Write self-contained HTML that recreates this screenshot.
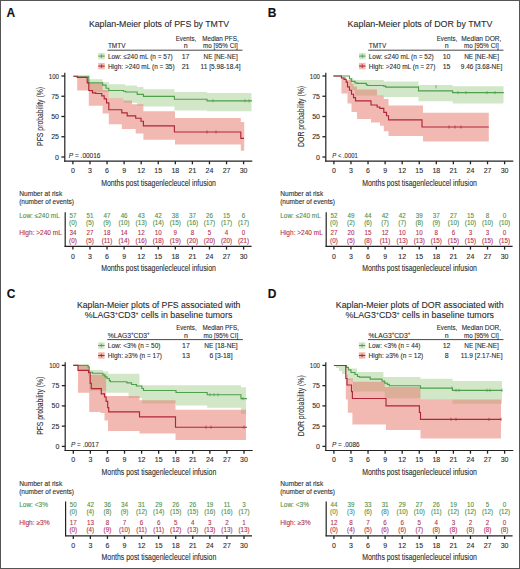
<!DOCTYPE html>
<html><head><meta charset="utf-8"><title>Kaplan-Meier plots</title>
<style>
html,body{margin:0;padding:0;background:#fff;}
body{width:520px;height:569px;overflow:hidden;}
svg{display:block;font-family:"Liberation Sans", sans-serif;}
text{paint-order:stroke;stroke-width:0.1px;stroke-linejoin:round;}
</style></head>
<body>
<svg width="520" height="569" viewBox="0 0 520 569">
<rect x="0" y="0" width="520" height="569" fill="#fff"/>
<text x="6.6" y="16.8" font-size="12" font-weight="bold" fill="#111" stroke="#111">A</text>
<text x="159.0" y="27.1" font-size="8.8" text-anchor="middle" textLength="140.2" lengthAdjust="spacingAndGlyphs" fill="#2b2b2b" stroke="#2b2b2b">Kaplan-Meier plots of PFS by TMTV</text>
<text x="107.9" y="48.1" font-size="7.0" textLength="17.7" lengthAdjust="spacingAndGlyphs" fill="#2b2b2b" stroke="#2b2b2b">TMTV</text>
<text x="186" y="41.0" font-size="7.0" text-anchor="middle" textLength="20.4" lengthAdjust="spacingAndGlyphs" fill="#2b2b2b" stroke="#2b2b2b">Events,</text>
<text x="185.6" y="48.1" font-size="7.0" text-anchor="middle" fill="#2b2b2b" stroke="#2b2b2b">n</text>
<text x="220.4" y="41.0" font-size="7.0" text-anchor="middle" textLength="36.5" lengthAdjust="spacingAndGlyphs" fill="#2b2b2b" stroke="#2b2b2b">Median PFS,</text>
<text x="220.4" y="48.1" font-size="7.0" text-anchor="middle" textLength="34.7" lengthAdjust="spacingAndGlyphs" fill="#2b2b2b" stroke="#2b2b2b">mo [95% CI]</text>
<line x1="107.4" y1="50.2" x2="242.5" y2="50.2" stroke="#333" stroke-width="0.9"/>
<rect x="98.30" y="52.90" width="6.4" height="6.4" fill="#d2e7c8"/>
<line x1="98.3" y1="56.1" x2="104.7" y2="56.1" stroke="#4f9f4c" stroke-width="1.1"/>
<line x1="101.5" y1="54.300000000000004" x2="101.5" y2="57.9" stroke="#4f9f4c" stroke-width="0.8"/>
<text x="107.9" y="58.7" font-size="7.0" textLength="64.8" lengthAdjust="spacingAndGlyphs" fill="#2b2b2b" stroke="#2b2b2b">Low: ≤240 mL (n = 57)</text>
<text x="185.6" y="58.7" font-size="7.0" text-anchor="middle" fill="#2b2b2b" stroke="#2b2b2b">17</text>
<text x="220.6" y="58.7" font-size="7.0" text-anchor="middle" textLength="34.2" lengthAdjust="spacingAndGlyphs" fill="#2b2b2b" stroke="#2b2b2b">NE [NE-NE]</text>
<rect x="98.30" y="62.90" width="6.4" height="6.4" fill="#f0b9b0"/>
<line x1="98.3" y1="66.10000000000001" x2="104.7" y2="66.10000000000001" stroke="#ae2638" stroke-width="1.1"/>
<line x1="101.5" y1="64.30000000000001" x2="101.5" y2="67.9" stroke="#ae2638" stroke-width="0.8"/>
<text x="107.9" y="68.7" font-size="7.0" textLength="66.7" lengthAdjust="spacingAndGlyphs" fill="#2b2b2b" stroke="#2b2b2b">High: &gt;240 mL (n = 35)</text>
<text x="185.6" y="68.7" font-size="7.0" text-anchor="middle" fill="#2b2b2b" stroke="#2b2b2b">21</text>
<text x="220.6" y="68.7" font-size="7.0" text-anchor="middle" textLength="40.0" lengthAdjust="spacingAndGlyphs" fill="#2b2b2b" stroke="#2b2b2b">11 [5.98-18.4]</text>
<path d="M73.40,76.20 L88.80,76.20 L88.80,79.20 L102.60,79.20 L102.60,82.00 L108.80,82.00 L108.80,84.30 L125.00,84.30 L125.00,85.50 L137.00,85.50 L137.00,87.00 L143.40,87.00 L143.40,89.20 L174.40,89.20 L174.40,92.00 L207.00,92.00 L207.00,93.00 L251.50,93.00 L251.50,111.30 L207.00,111.30 L207.00,110.40 L174.40,110.40 L174.40,106.50 L143.40,106.50 L143.40,105.80 L137.20,105.80 L137.20,102.80 L123.40,102.80 L123.40,98.50 L108.80,98.50 L108.80,92.00 L88.80,92.00 L88.80,76.50 L73.40,76.50Z" fill="#d2e7c8"/>
<path d="M73.40,76.20 L77.20,76.20 L77.20,77.00 L88.80,77.00 L88.80,83.50 L102.60,83.50 L102.60,90.00 L108.80,90.00 L108.80,98.20 L123.40,98.20 L123.40,100.50 L132.00,100.50 L132.00,104.30 L143.40,104.30 L143.40,111.30 L175.00,111.30 L175.00,118.00 L240.80,118.00 L240.80,122.00 L244.20,122.00 L244.20,150.80 L240.80,150.80 L240.80,144.60 L175.00,144.60 L175.00,139.70 L143.40,139.70 L143.40,133.50 L135.70,133.50 L135.70,128.90 L121.80,128.90 L121.80,124.30 L108.80,124.30 L108.80,113.50 L102.60,113.50 L102.60,105.80 L88.80,105.80 L88.80,90.50 L77.20,90.50 L77.20,76.20 L73.40,76.20Z" fill="#e67366" fill-opacity="0.5"/>
<path d="M73.40,76.20H88.80V82.80H102.60V85.10H106.00V88.20H108.80V90.50H123.40V91.20H125.70V92.00H137.20V94.30H143.40V96.30H174.40V99.20H207.00V100.80H252.00" fill="none" stroke="#4f9f4c" stroke-width="1.15"/>
<path d="M73.40,76.20H77.20V77.40H87.20V82.80H88.80V90.50H92.50V92.80H95.70V93.50H101.80V95.80H104.20V98.90H106.50V102.80H108.80V109.70H121.80V112.80H127.20V115.80H135.70V118.20H141.00V121.20H143.40V125.80H174.40V132.00H240.80V138.30H244.00" fill="none" stroke="#ae2638" stroke-width="1.15"/>
<line x1="213" y1="99.2" x2="213" y2="102.39999999999999" stroke="#4f9f4c" stroke-width="0.7"/>
<line x1="245" y1="99.2" x2="245" y2="102.39999999999999" stroke="#4f9f4c" stroke-width="0.7"/>
<line x1="249" y1="99.2" x2="249" y2="102.39999999999999" stroke="#4f9f4c" stroke-width="0.7"/>
<line x1="207" y1="130.4" x2="207" y2="133.6" stroke="#ae2638" stroke-width="0.7"/>
<line x1="216" y1="130.4" x2="216" y2="133.6" stroke="#ae2638" stroke-width="0.7"/>
<line x1="64.8" y1="72.8" x2="64.8" y2="161.65" stroke="#222" stroke-width="1.2"/>
<line x1="64.2" y1="161.1" x2="252.3" y2="161.1" stroke="#222" stroke-width="1.2"/>
<line x1="61.4" y1="157.0" x2="64.8" y2="157.0" stroke="#222" stroke-width="1.3"/>
<text x="59.0" y="159.5" font-size="7.0" text-anchor="end" fill="#2b2b2b" stroke="#2b2b2b">0</text>
<line x1="61.4" y1="136.75" x2="64.8" y2="136.75" stroke="#222" stroke-width="1.3"/>
<text x="59.0" y="139.25" font-size="7.0" text-anchor="end" fill="#2b2b2b" stroke="#2b2b2b">25</text>
<line x1="61.4" y1="116.5" x2="64.8" y2="116.5" stroke="#222" stroke-width="1.3"/>
<text x="59.0" y="119.0" font-size="7.0" text-anchor="end" fill="#2b2b2b" stroke="#2b2b2b">50</text>
<line x1="61.4" y1="96.25" x2="64.8" y2="96.25" stroke="#222" stroke-width="1.3"/>
<text x="59.0" y="98.75" font-size="7.0" text-anchor="end" fill="#2b2b2b" stroke="#2b2b2b">75</text>
<line x1="61.4" y1="76.0" x2="64.8" y2="76.0" stroke="#222" stroke-width="1.3"/>
<text x="59.0" y="78.5" font-size="7.0" text-anchor="end" textLength="10.2" lengthAdjust="spacingAndGlyphs" fill="#2b2b2b" stroke="#2b2b2b">100</text>
<line x1="72.9" y1="161.1" x2="72.9" y2="164.29999999999998" stroke="#222" stroke-width="1.3"/>
<text x="72.9" y="172.8" font-size="7.0" text-anchor="middle" fill="#2b2b2b" stroke="#2b2b2b">0</text>
<line x1="89.97" y1="161.1" x2="89.97" y2="164.29999999999998" stroke="#222" stroke-width="1.3"/>
<text x="89.97" y="172.8" font-size="7.0" text-anchor="middle" fill="#2b2b2b" stroke="#2b2b2b">3</text>
<line x1="107.04" y1="161.1" x2="107.04" y2="164.29999999999998" stroke="#222" stroke-width="1.3"/>
<text x="107.04" y="172.8" font-size="7.0" text-anchor="middle" fill="#2b2b2b" stroke="#2b2b2b">6</text>
<line x1="124.11000000000001" y1="161.1" x2="124.11000000000001" y2="164.29999999999998" stroke="#222" stroke-width="1.3"/>
<text x="124.11000000000001" y="172.8" font-size="7.0" text-anchor="middle" fill="#2b2b2b" stroke="#2b2b2b">9</text>
<line x1="141.18" y1="161.1" x2="141.18" y2="164.29999999999998" stroke="#222" stroke-width="1.3"/>
<text x="141.18" y="172.8" font-size="7.0" text-anchor="middle" fill="#2b2b2b" stroke="#2b2b2b">12</text>
<line x1="158.25" y1="161.1" x2="158.25" y2="164.29999999999998" stroke="#222" stroke-width="1.3"/>
<text x="158.25" y="172.8" font-size="7.0" text-anchor="middle" fill="#2b2b2b" stroke="#2b2b2b">15</text>
<line x1="175.32" y1="161.1" x2="175.32" y2="164.29999999999998" stroke="#222" stroke-width="1.3"/>
<text x="175.32" y="172.8" font-size="7.0" text-anchor="middle" fill="#2b2b2b" stroke="#2b2b2b">18</text>
<line x1="192.39000000000001" y1="161.1" x2="192.39000000000001" y2="164.29999999999998" stroke="#222" stroke-width="1.3"/>
<text x="192.39000000000001" y="172.8" font-size="7.0" text-anchor="middle" fill="#2b2b2b" stroke="#2b2b2b">21</text>
<line x1="209.46" y1="161.1" x2="209.46" y2="164.29999999999998" stroke="#222" stroke-width="1.3"/>
<text x="209.46" y="172.8" font-size="7.0" text-anchor="middle" fill="#2b2b2b" stroke="#2b2b2b">24</text>
<line x1="226.53000000000003" y1="161.1" x2="226.53000000000003" y2="164.29999999999998" stroke="#222" stroke-width="1.3"/>
<text x="226.53000000000003" y="172.8" font-size="7.0" text-anchor="middle" fill="#2b2b2b" stroke="#2b2b2b">27</text>
<line x1="243.60000000000002" y1="161.1" x2="243.60000000000002" y2="164.29999999999998" stroke="#222" stroke-width="1.3"/>
<text x="243.60000000000002" y="172.8" font-size="7.0" text-anchor="middle" fill="#2b2b2b" stroke="#2b2b2b">30</text>
<text x="158.5" y="185.6" font-size="9.0" text-anchor="middle" textLength="114.7" lengthAdjust="spacingAndGlyphs" fill="#2b2b2b" stroke="#2b2b2b">Months post tisagenlecleucel infusion</text>
<text x="0" y="0" font-size="9.0" text-anchor="middle" textLength="59" lengthAdjust="spacingAndGlyphs" fill="#2b2b2b" stroke="#2b2b2b" transform="translate(42.9,116.4) rotate(-90)">PFS probability (%)</text>
<text x="68.8" y="157.8" font-size="7.0" fill="#2b2b2b" stroke="#2b2b2b" textLength="31.7" lengthAdjust="spacingAndGlyphs"><tspan font-style="italic">P</tspan> = .00016</text>
<text x="19.2" y="196.3" font-size="6.7" textLength="43" lengthAdjust="spacingAndGlyphs" fill="#2b2b2b" stroke="#2b2b2b">Number at risk</text>
<text x="19.2" y="204.4" font-size="6.7" textLength="54.8" lengthAdjust="spacingAndGlyphs" fill="#2b2b2b" stroke="#2b2b2b">(number of events)</text>
<text x="19.2" y="217.6" font-size="6.7" textLength="40.6" lengthAdjust="spacingAndGlyphs" fill="#4e9046" stroke="#4e9046">Low: ≤240 mL</text>
<text x="19.2" y="235.4" font-size="6.7" textLength="42.7" lengthAdjust="spacingAndGlyphs" fill="#b3304e" stroke="#b3304e">High: &gt;240 mL</text>
<line x1="65.2" y1="212.2" x2="65.2" y2="246.95000000000002" stroke="#222" stroke-width="1.2"/>
<line x1="64.60000000000001" y1="246.4" x2="251.6" y2="246.4" stroke="#222" stroke-width="1.2"/>
<text x="0" y="0" transform="translate(72.90,217.50) scale(0.88,1)" font-size="7.1" text-anchor="middle" fill="#4e9046" stroke="#4e9046">57</text>
<text x="72.9" y="224.9" font-size="6.3" text-anchor="middle" fill="#4e9046" stroke="#4e9046">(0)</text>
<text x="0" y="0" transform="translate(72.90,235.10) scale(0.88,1)" font-size="7.1" text-anchor="middle" fill="#b3304e" stroke="#b3304e">34</text>
<text x="72.9" y="242.5" font-size="6.3" text-anchor="middle" fill="#b3304e" stroke="#b3304e">(0)</text>
<line x1="72.9" y1="246.4" x2="72.9" y2="249.6" stroke="#222" stroke-width="1.3"/>
<text x="72.9" y="258.6" font-size="7.0" text-anchor="middle" fill="#2b2b2b" stroke="#2b2b2b">0</text>
<text x="0" y="0" transform="translate(89.97,217.50) scale(0.88,1)" font-size="7.1" text-anchor="middle" fill="#4e9046" stroke="#4e9046">51</text>
<text x="89.97" y="224.9" font-size="6.3" text-anchor="middle" fill="#4e9046" stroke="#4e9046">(5)</text>
<text x="0" y="0" transform="translate(89.97,235.10) scale(0.88,1)" font-size="7.1" text-anchor="middle" fill="#b3304e" stroke="#b3304e">27</text>
<text x="89.97" y="242.5" font-size="6.3" text-anchor="middle" fill="#b3304e" stroke="#b3304e">(5)</text>
<line x1="89.97" y1="246.4" x2="89.97" y2="249.6" stroke="#222" stroke-width="1.3"/>
<text x="89.97" y="258.6" font-size="7.0" text-anchor="middle" fill="#2b2b2b" stroke="#2b2b2b">3</text>
<text x="0" y="0" transform="translate(107.04,217.50) scale(0.88,1)" font-size="7.1" text-anchor="middle" fill="#4e9046" stroke="#4e9046">47</text>
<text x="107.04" y="224.9" font-size="6.3" text-anchor="middle" fill="#4e9046" stroke="#4e9046">(9)</text>
<text x="0" y="0" transform="translate(107.04,235.10) scale(0.88,1)" font-size="7.1" text-anchor="middle" fill="#b3304e" stroke="#b3304e">18</text>
<text x="107.04" y="242.5" font-size="6.3" text-anchor="middle" fill="#b3304e" stroke="#b3304e">(11)</text>
<line x1="107.04" y1="246.4" x2="107.04" y2="249.6" stroke="#222" stroke-width="1.3"/>
<text x="107.04" y="258.6" font-size="7.0" text-anchor="middle" fill="#2b2b2b" stroke="#2b2b2b">6</text>
<text x="0" y="0" transform="translate(124.11,217.50) scale(0.88,1)" font-size="7.1" text-anchor="middle" fill="#4e9046" stroke="#4e9046">46</text>
<text x="124.11000000000001" y="224.9" font-size="6.3" text-anchor="middle" fill="#4e9046" stroke="#4e9046">(10)</text>
<text x="0" y="0" transform="translate(124.11,235.10) scale(0.88,1)" font-size="7.1" text-anchor="middle" fill="#b3304e" stroke="#b3304e">14</text>
<text x="124.11000000000001" y="242.5" font-size="6.3" text-anchor="middle" fill="#b3304e" stroke="#b3304e">(14)</text>
<line x1="124.11000000000001" y1="246.4" x2="124.11000000000001" y2="249.6" stroke="#222" stroke-width="1.3"/>
<text x="124.11000000000001" y="258.6" font-size="7.0" text-anchor="middle" fill="#2b2b2b" stroke="#2b2b2b">9</text>
<text x="0" y="0" transform="translate(141.18,217.50) scale(0.88,1)" font-size="7.1" text-anchor="middle" fill="#4e9046" stroke="#4e9046">43</text>
<text x="141.18" y="224.9" font-size="6.3" text-anchor="middle" fill="#4e9046" stroke="#4e9046">(13)</text>
<text x="0" y="0" transform="translate(141.18,235.10) scale(0.88,1)" font-size="7.1" text-anchor="middle" fill="#b3304e" stroke="#b3304e">12</text>
<text x="141.18" y="242.5" font-size="6.3" text-anchor="middle" fill="#b3304e" stroke="#b3304e">(16)</text>
<line x1="141.18" y1="246.4" x2="141.18" y2="249.6" stroke="#222" stroke-width="1.3"/>
<text x="141.18" y="258.6" font-size="7.0" text-anchor="middle" fill="#2b2b2b" stroke="#2b2b2b">12</text>
<text x="0" y="0" transform="translate(158.25,217.50) scale(0.88,1)" font-size="7.1" text-anchor="middle" fill="#4e9046" stroke="#4e9046">42</text>
<text x="158.25" y="224.9" font-size="6.3" text-anchor="middle" fill="#4e9046" stroke="#4e9046">(14)</text>
<text x="0" y="0" transform="translate(158.25,235.10) scale(0.88,1)" font-size="7.1" text-anchor="middle" fill="#b3304e" stroke="#b3304e">10</text>
<text x="158.25" y="242.5" font-size="6.3" text-anchor="middle" fill="#b3304e" stroke="#b3304e">(18)</text>
<line x1="158.25" y1="246.4" x2="158.25" y2="249.6" stroke="#222" stroke-width="1.3"/>
<text x="158.25" y="258.6" font-size="7.0" text-anchor="middle" fill="#2b2b2b" stroke="#2b2b2b">15</text>
<text x="0" y="0" transform="translate(175.32,217.50) scale(0.88,1)" font-size="7.1" text-anchor="middle" fill="#4e9046" stroke="#4e9046">38</text>
<text x="175.32" y="224.9" font-size="6.3" text-anchor="middle" fill="#4e9046" stroke="#4e9046">(15)</text>
<text x="0" y="0" transform="translate(175.32,235.10) scale(0.88,1)" font-size="7.1" text-anchor="middle" fill="#b3304e" stroke="#b3304e">9</text>
<text x="175.32" y="242.5" font-size="6.3" text-anchor="middle" fill="#b3304e" stroke="#b3304e">(19)</text>
<line x1="175.32" y1="246.4" x2="175.32" y2="249.6" stroke="#222" stroke-width="1.3"/>
<text x="175.32" y="258.6" font-size="7.0" text-anchor="middle" fill="#2b2b2b" stroke="#2b2b2b">18</text>
<text x="0" y="0" transform="translate(192.39,217.50) scale(0.88,1)" font-size="7.1" text-anchor="middle" fill="#4e9046" stroke="#4e9046">37</text>
<text x="192.39000000000001" y="224.9" font-size="6.3" text-anchor="middle" fill="#4e9046" stroke="#4e9046">(16)</text>
<text x="0" y="0" transform="translate(192.39,235.10) scale(0.88,1)" font-size="7.1" text-anchor="middle" fill="#b3304e" stroke="#b3304e">8</text>
<text x="192.39000000000001" y="242.5" font-size="6.3" text-anchor="middle" fill="#b3304e" stroke="#b3304e">(20)</text>
<line x1="192.39000000000001" y1="246.4" x2="192.39000000000001" y2="249.6" stroke="#222" stroke-width="1.3"/>
<text x="192.39000000000001" y="258.6" font-size="7.0" text-anchor="middle" fill="#2b2b2b" stroke="#2b2b2b">21</text>
<text x="0" y="0" transform="translate(209.46,217.50) scale(0.88,1)" font-size="7.1" text-anchor="middle" fill="#4e9046" stroke="#4e9046">26</text>
<text x="209.46" y="224.9" font-size="6.3" text-anchor="middle" fill="#4e9046" stroke="#4e9046">(17)</text>
<text x="0" y="0" transform="translate(209.46,235.10) scale(0.88,1)" font-size="7.1" text-anchor="middle" fill="#b3304e" stroke="#b3304e">5</text>
<text x="209.46" y="242.5" font-size="6.3" text-anchor="middle" fill="#b3304e" stroke="#b3304e">(20)</text>
<line x1="209.46" y1="246.4" x2="209.46" y2="249.6" stroke="#222" stroke-width="1.3"/>
<text x="209.46" y="258.6" font-size="7.0" text-anchor="middle" fill="#2b2b2b" stroke="#2b2b2b">24</text>
<text x="0" y="0" transform="translate(226.53,217.50) scale(0.88,1)" font-size="7.1" text-anchor="middle" fill="#4e9046" stroke="#4e9046">15</text>
<text x="226.53000000000003" y="224.9" font-size="6.3" text-anchor="middle" fill="#4e9046" stroke="#4e9046">(17)</text>
<text x="0" y="0" transform="translate(226.53,235.10) scale(0.88,1)" font-size="7.1" text-anchor="middle" fill="#b3304e" stroke="#b3304e">4</text>
<text x="226.53000000000003" y="242.5" font-size="6.3" text-anchor="middle" fill="#b3304e" stroke="#b3304e">(20)</text>
<line x1="226.53000000000003" y1="246.4" x2="226.53000000000003" y2="249.6" stroke="#222" stroke-width="1.3"/>
<text x="226.53000000000003" y="258.6" font-size="7.0" text-anchor="middle" fill="#2b2b2b" stroke="#2b2b2b">27</text>
<text x="0" y="0" transform="translate(243.60,217.50) scale(0.88,1)" font-size="7.1" text-anchor="middle" fill="#4e9046" stroke="#4e9046">6</text>
<text x="243.60000000000002" y="224.9" font-size="6.3" text-anchor="middle" fill="#4e9046" stroke="#4e9046">(17)</text>
<text x="0" y="0" transform="translate(243.60,235.10) scale(0.88,1)" font-size="7.1" text-anchor="middle" fill="#b3304e" stroke="#b3304e">0</text>
<text x="243.60000000000002" y="242.5" font-size="6.3" text-anchor="middle" fill="#b3304e" stroke="#b3304e">(21)</text>
<line x1="243.60000000000002" y1="246.4" x2="243.60000000000002" y2="249.6" stroke="#222" stroke-width="1.3"/>
<text x="243.60000000000002" y="258.6" font-size="7.0" text-anchor="middle" fill="#2b2b2b" stroke="#2b2b2b">30</text>
<text x="158.5" y="270.6" font-size="9.0" text-anchor="middle" textLength="114.7" lengthAdjust="spacingAndGlyphs" fill="#2b2b2b" stroke="#2b2b2b">Months post tisagenlecleucel infusion</text>
<text x="267.8" y="16.9" font-size="12" font-weight="bold" fill="#111" stroke="#111">B</text>
<text x="420.0" y="27.1" font-size="8.8" text-anchor="middle" textLength="144.8" lengthAdjust="spacingAndGlyphs" fill="#2b2b2b" stroke="#2b2b2b">Kaplan-Meier plots of DOR by TMTV</text>
<text x="368.7" y="48.1" font-size="7.0" textLength="17.7" lengthAdjust="spacingAndGlyphs" fill="#2b2b2b" stroke="#2b2b2b">TMTV</text>
<text x="447" y="41.0" font-size="7.0" text-anchor="middle" textLength="20.4" lengthAdjust="spacingAndGlyphs" fill="#2b2b2b" stroke="#2b2b2b">Events,</text>
<text x="446.6" y="48.1" font-size="7.0" text-anchor="middle" fill="#2b2b2b" stroke="#2b2b2b">n</text>
<text x="481.4" y="41.0" font-size="7.0" text-anchor="middle" textLength="40.1" lengthAdjust="spacingAndGlyphs" fill="#2b2b2b" stroke="#2b2b2b">Median DOR,</text>
<text x="481.4" y="48.1" font-size="7.0" text-anchor="middle" textLength="34.7" lengthAdjust="spacingAndGlyphs" fill="#2b2b2b" stroke="#2b2b2b">mo [95% CI]</text>
<line x1="368.2" y1="50.2" x2="503.5" y2="50.2" stroke="#333" stroke-width="0.9"/>
<rect x="359.10" y="52.90" width="6.4" height="6.4" fill="#d2e7c8"/>
<line x1="359.1" y1="56.1" x2="365.5" y2="56.1" stroke="#4f9f4c" stroke-width="1.1"/>
<line x1="362.3" y1="54.300000000000004" x2="362.3" y2="57.9" stroke="#4f9f4c" stroke-width="0.8"/>
<text x="368.7" y="58.7" font-size="7.0" textLength="65.0" lengthAdjust="spacingAndGlyphs" fill="#2b2b2b" stroke="#2b2b2b">Low: ≤240 mL (n = 52)</text>
<text x="446.6" y="58.7" font-size="7.0" text-anchor="middle" fill="#2b2b2b" stroke="#2b2b2b">10</text>
<text x="481.6" y="58.7" font-size="7.0" text-anchor="middle" textLength="34.9" lengthAdjust="spacingAndGlyphs" fill="#2b2b2b" stroke="#2b2b2b">NE [NE-NE]</text>
<rect x="359.10" y="62.90" width="6.4" height="6.4" fill="#f0b9b0"/>
<line x1="359.1" y1="66.10000000000001" x2="365.5" y2="66.10000000000001" stroke="#ae2638" stroke-width="1.1"/>
<line x1="362.3" y1="64.30000000000001" x2="362.3" y2="67.9" stroke="#ae2638" stroke-width="0.8"/>
<text x="368.7" y="68.7" font-size="7.0" textLength="66.7" lengthAdjust="spacingAndGlyphs" fill="#2b2b2b" stroke="#2b2b2b">High: &gt;240 mL (n = 27)</text>
<text x="446.6" y="68.7" font-size="7.0" text-anchor="middle" fill="#2b2b2b" stroke="#2b2b2b">15</text>
<text x="481.6" y="68.7" font-size="7.0" text-anchor="middle" textLength="41.5" lengthAdjust="spacingAndGlyphs" fill="#2b2b2b" stroke="#2b2b2b">9.46 [3.68-NE]</text>
<path d="M333.40,76.00 L349.50,76.00 L349.50,78.00 L353.50,78.00 L353.50,80.00 L383.80,80.00 L383.80,81.40 L418.50,81.40 L418.50,85.00 L452.60,85.00 L452.60,86.20 L503.50,86.20 L503.50,103.50 L452.60,103.50 L452.60,101.20 L418.50,101.20 L418.50,97.00 L383.80,97.00 L383.80,96.20 L377.00,96.20 L377.00,95.50 L355.00,95.50 L355.00,90.00 L351.50,90.00 L351.50,86.00 L349.50,86.00 L349.50,76.00 L333.40,76.00Z" fill="#d2e7c8"/>
<path d="M333.40,76.00 L341.40,76.00 L341.40,77.00 L346.00,77.00 L346.00,80.00 L351.50,80.00 L351.50,84.00 L353.50,84.00 L353.50,86.50 L357.00,86.50 L357.00,89.50 L377.00,89.50 L377.00,95.50 L383.80,95.50 L383.80,99.00 L388.50,99.00 L388.50,105.60 L423.00,105.60 L423.00,112.70 L488.80,112.70 L488.80,141.50 L423.00,141.50 L423.00,136.00 L388.50,136.00 L388.50,131.20 L383.80,131.20 L383.80,125.80 L380.00,125.80 L380.00,122.50 L371.00,122.50 L371.00,119.10 L357.00,119.10 L357.00,112.00 L351.50,112.00 L351.50,103.60 L347.50,103.60 L347.50,93.50 L341.40,93.50 L341.40,76.00 L333.40,76.00Z" fill="#e67366" fill-opacity="0.5"/>
<path d="M333.40,76.00H349.50V78.70H351.50V81.40H355.00V82.80H357.00V83.40H366.30V84.80H367.70V85.50H383.80V86.10H385.80V87.10H418.50V90.80H452.60V92.60H503.80" fill="none" stroke="#4f9f4c" stroke-width="1.15"/>
<path d="M333.40,76.00H341.40V78.00H344.00V79.40H346.20V82.10H347.50V86.80H349.50V90.20H351.50V94.20H353.50V97.60H355.50V100.90H371.00V105.00H377.10V107.00H379.80V108.30H383.80V112.40H386.50V115.70H388.50V119.80H422.00V127.00H488.80" fill="none" stroke="#ae2638" stroke-width="1.15"/>
<line x1="436" y1="85.2" x2="436" y2="88.39999999999999" stroke="#4f9f4c" stroke-width="0.7"/>
<line x1="458" y1="91.0" x2="458" y2="94.19999999999999" stroke="#4f9f4c" stroke-width="0.7"/>
<line x1="466" y1="91.0" x2="466" y2="94.19999999999999" stroke="#4f9f4c" stroke-width="0.7"/>
<line x1="487" y1="91.0" x2="487" y2="94.19999999999999" stroke="#4f9f4c" stroke-width="0.7"/>
<line x1="495" y1="91.0" x2="495" y2="94.19999999999999" stroke="#4f9f4c" stroke-width="0.7"/>
<line x1="449" y1="125.4" x2="449" y2="128.6" stroke="#ae2638" stroke-width="0.7"/>
<line x1="455" y1="125.4" x2="455" y2="128.6" stroke="#ae2638" stroke-width="0.7"/>
<line x1="461" y1="125.4" x2="461" y2="128.6" stroke="#ae2638" stroke-width="0.7"/>
<line x1="325.8" y1="72.8" x2="325.8" y2="161.65" stroke="#222" stroke-width="1.2"/>
<line x1="325.2" y1="161.1" x2="513.3" y2="161.1" stroke="#222" stroke-width="1.2"/>
<line x1="322.40000000000003" y1="157.0" x2="325.8" y2="157.0" stroke="#222" stroke-width="1.3"/>
<text x="320.0" y="159.5" font-size="7.0" text-anchor="end" fill="#2b2b2b" stroke="#2b2b2b">0</text>
<line x1="322.40000000000003" y1="136.75" x2="325.8" y2="136.75" stroke="#222" stroke-width="1.3"/>
<text x="320.0" y="139.25" font-size="7.0" text-anchor="end" fill="#2b2b2b" stroke="#2b2b2b">25</text>
<line x1="322.40000000000003" y1="116.5" x2="325.8" y2="116.5" stroke="#222" stroke-width="1.3"/>
<text x="320.0" y="119.0" font-size="7.0" text-anchor="end" fill="#2b2b2b" stroke="#2b2b2b">50</text>
<line x1="322.40000000000003" y1="96.25" x2="325.8" y2="96.25" stroke="#222" stroke-width="1.3"/>
<text x="320.0" y="98.75" font-size="7.0" text-anchor="end" fill="#2b2b2b" stroke="#2b2b2b">75</text>
<line x1="322.40000000000003" y1="76.0" x2="325.8" y2="76.0" stroke="#222" stroke-width="1.3"/>
<text x="320.0" y="78.5" font-size="7.0" text-anchor="end" textLength="10.2" lengthAdjust="spacingAndGlyphs" fill="#2b2b2b" stroke="#2b2b2b">100</text>
<line x1="333.9" y1="161.1" x2="333.9" y2="164.29999999999998" stroke="#222" stroke-width="1.3"/>
<text x="333.9" y="172.8" font-size="7.0" text-anchor="middle" fill="#2b2b2b" stroke="#2b2b2b">0</text>
<line x1="350.96999999999997" y1="161.1" x2="350.96999999999997" y2="164.29999999999998" stroke="#222" stroke-width="1.3"/>
<text x="350.96999999999997" y="172.8" font-size="7.0" text-anchor="middle" fill="#2b2b2b" stroke="#2b2b2b">3</text>
<line x1="368.03999999999996" y1="161.1" x2="368.03999999999996" y2="164.29999999999998" stroke="#222" stroke-width="1.3"/>
<text x="368.03999999999996" y="172.8" font-size="7.0" text-anchor="middle" fill="#2b2b2b" stroke="#2b2b2b">6</text>
<line x1="385.10999999999996" y1="161.1" x2="385.10999999999996" y2="164.29999999999998" stroke="#222" stroke-width="1.3"/>
<text x="385.10999999999996" y="172.8" font-size="7.0" text-anchor="middle" fill="#2b2b2b" stroke="#2b2b2b">9</text>
<line x1="402.17999999999995" y1="161.1" x2="402.17999999999995" y2="164.29999999999998" stroke="#222" stroke-width="1.3"/>
<text x="402.17999999999995" y="172.8" font-size="7.0" text-anchor="middle" fill="#2b2b2b" stroke="#2b2b2b">12</text>
<line x1="419.25" y1="161.1" x2="419.25" y2="164.29999999999998" stroke="#222" stroke-width="1.3"/>
<text x="419.25" y="172.8" font-size="7.0" text-anchor="middle" fill="#2b2b2b" stroke="#2b2b2b">15</text>
<line x1="436.32" y1="161.1" x2="436.32" y2="164.29999999999998" stroke="#222" stroke-width="1.3"/>
<text x="436.32" y="172.8" font-size="7.0" text-anchor="middle" fill="#2b2b2b" stroke="#2b2b2b">18</text>
<line x1="453.39" y1="161.1" x2="453.39" y2="164.29999999999998" stroke="#222" stroke-width="1.3"/>
<text x="453.39" y="172.8" font-size="7.0" text-anchor="middle" fill="#2b2b2b" stroke="#2b2b2b">21</text>
<line x1="470.46" y1="161.1" x2="470.46" y2="164.29999999999998" stroke="#222" stroke-width="1.3"/>
<text x="470.46" y="172.8" font-size="7.0" text-anchor="middle" fill="#2b2b2b" stroke="#2b2b2b">24</text>
<line x1="487.53" y1="161.1" x2="487.53" y2="164.29999999999998" stroke="#222" stroke-width="1.3"/>
<text x="487.53" y="172.8" font-size="7.0" text-anchor="middle" fill="#2b2b2b" stroke="#2b2b2b">27</text>
<line x1="504.6" y1="161.1" x2="504.6" y2="164.29999999999998" stroke="#222" stroke-width="1.3"/>
<text x="504.6" y="172.8" font-size="7.0" text-anchor="middle" fill="#2b2b2b" stroke="#2b2b2b">30</text>
<text x="419.5" y="185.6" font-size="9.0" text-anchor="middle" textLength="114.7" lengthAdjust="spacingAndGlyphs" fill="#2b2b2b" stroke="#2b2b2b">Months post tisagenlecleucel infusion</text>
<text x="0" y="0" font-size="9.0" text-anchor="middle" textLength="61" lengthAdjust="spacingAndGlyphs" fill="#2b2b2b" stroke="#2b2b2b" transform="translate(303.9,116.4) rotate(-90)">DOR probability (%)</text>
<text x="332.3" y="157.8" font-size="7.0" fill="#2b2b2b" stroke="#2b2b2b" textLength="25.5" lengthAdjust="spacingAndGlyphs"><tspan font-style="italic">P</tspan> &lt; .0001</text>
<text x="280.2" y="196.3" font-size="6.7" textLength="43" lengthAdjust="spacingAndGlyphs" fill="#2b2b2b" stroke="#2b2b2b">Number at risk</text>
<text x="280.2" y="204.4" font-size="6.7" textLength="54.8" lengthAdjust="spacingAndGlyphs" fill="#2b2b2b" stroke="#2b2b2b">(number of events)</text>
<text x="280.2" y="217.6" font-size="6.7" textLength="40.6" lengthAdjust="spacingAndGlyphs" fill="#4e9046" stroke="#4e9046">Low: ≤240 mL</text>
<text x="280.2" y="235.4" font-size="6.7" textLength="42.7" lengthAdjust="spacingAndGlyphs" fill="#b3304e" stroke="#b3304e">High: &gt;240 mL</text>
<line x1="326.2" y1="212.2" x2="326.2" y2="246.95000000000002" stroke="#222" stroke-width="1.2"/>
<line x1="325.59999999999997" y1="246.4" x2="512.6" y2="246.4" stroke="#222" stroke-width="1.2"/>
<text x="0" y="0" transform="translate(333.90,217.50) scale(0.88,1)" font-size="7.1" text-anchor="middle" fill="#4e9046" stroke="#4e9046">52</text>
<text x="333.9" y="224.9" font-size="6.3" text-anchor="middle" fill="#4e9046" stroke="#4e9046">(0)</text>
<text x="0" y="0" transform="translate(333.90,235.10) scale(0.88,1)" font-size="7.1" text-anchor="middle" fill="#b3304e" stroke="#b3304e">27</text>
<text x="333.9" y="242.5" font-size="6.3" text-anchor="middle" fill="#b3304e" stroke="#b3304e">(0)</text>
<line x1="333.9" y1="246.4" x2="333.9" y2="249.6" stroke="#222" stroke-width="1.3"/>
<text x="333.9" y="258.6" font-size="7.0" text-anchor="middle" fill="#2b2b2b" stroke="#2b2b2b">0</text>
<text x="0" y="0" transform="translate(350.97,217.50) scale(0.88,1)" font-size="7.1" text-anchor="middle" fill="#4e9046" stroke="#4e9046">49</text>
<text x="350.96999999999997" y="224.9" font-size="6.3" text-anchor="middle" fill="#4e9046" stroke="#4e9046">(2)</text>
<text x="0" y="0" transform="translate(350.97,235.10) scale(0.88,1)" font-size="7.1" text-anchor="middle" fill="#b3304e" stroke="#b3304e">20</text>
<text x="350.96999999999997" y="242.5" font-size="6.3" text-anchor="middle" fill="#b3304e" stroke="#b3304e">(5)</text>
<line x1="350.96999999999997" y1="246.4" x2="350.96999999999997" y2="249.6" stroke="#222" stroke-width="1.3"/>
<text x="350.96999999999997" y="258.6" font-size="7.0" text-anchor="middle" fill="#2b2b2b" stroke="#2b2b2b">3</text>
<text x="0" y="0" transform="translate(368.04,217.50) scale(0.88,1)" font-size="7.1" text-anchor="middle" fill="#4e9046" stroke="#4e9046">44</text>
<text x="368.03999999999996" y="224.9" font-size="6.3" text-anchor="middle" fill="#4e9046" stroke="#4e9046">(6)</text>
<text x="0" y="0" transform="translate(368.04,235.10) scale(0.88,1)" font-size="7.1" text-anchor="middle" fill="#b3304e" stroke="#b3304e">15</text>
<text x="368.03999999999996" y="242.5" font-size="6.3" text-anchor="middle" fill="#b3304e" stroke="#b3304e">(8)</text>
<line x1="368.03999999999996" y1="246.4" x2="368.03999999999996" y2="249.6" stroke="#222" stroke-width="1.3"/>
<text x="368.03999999999996" y="258.6" font-size="7.0" text-anchor="middle" fill="#2b2b2b" stroke="#2b2b2b">6</text>
<text x="0" y="0" transform="translate(385.11,217.50) scale(0.88,1)" font-size="7.1" text-anchor="middle" fill="#4e9046" stroke="#4e9046">42</text>
<text x="385.10999999999996" y="224.9" font-size="6.3" text-anchor="middle" fill="#4e9046" stroke="#4e9046">(7)</text>
<text x="0" y="0" transform="translate(385.11,235.10) scale(0.88,1)" font-size="7.1" text-anchor="middle" fill="#b3304e" stroke="#b3304e">12</text>
<text x="385.10999999999996" y="242.5" font-size="6.3" text-anchor="middle" fill="#b3304e" stroke="#b3304e">(11)</text>
<line x1="385.10999999999996" y1="246.4" x2="385.10999999999996" y2="249.6" stroke="#222" stroke-width="1.3"/>
<text x="385.10999999999996" y="258.6" font-size="7.0" text-anchor="middle" fill="#2b2b2b" stroke="#2b2b2b">9</text>
<text x="0" y="0" transform="translate(402.18,217.50) scale(0.88,1)" font-size="7.1" text-anchor="middle" fill="#4e9046" stroke="#4e9046">42</text>
<text x="402.17999999999995" y="224.9" font-size="6.3" text-anchor="middle" fill="#4e9046" stroke="#4e9046">(7)</text>
<text x="0" y="0" transform="translate(402.18,235.10) scale(0.88,1)" font-size="7.1" text-anchor="middle" fill="#b3304e" stroke="#b3304e">10</text>
<text x="402.17999999999995" y="242.5" font-size="6.3" text-anchor="middle" fill="#b3304e" stroke="#b3304e">(13)</text>
<line x1="402.17999999999995" y1="246.4" x2="402.17999999999995" y2="249.6" stroke="#222" stroke-width="1.3"/>
<text x="402.17999999999995" y="258.6" font-size="7.0" text-anchor="middle" fill="#2b2b2b" stroke="#2b2b2b">12</text>
<text x="0" y="0" transform="translate(419.25,217.50) scale(0.88,1)" font-size="7.1" text-anchor="middle" fill="#4e9046" stroke="#4e9046">39</text>
<text x="419.25" y="224.9" font-size="6.3" text-anchor="middle" fill="#4e9046" stroke="#4e9046">(8)</text>
<text x="0" y="0" transform="translate(419.25,235.10) scale(0.88,1)" font-size="7.1" text-anchor="middle" fill="#b3304e" stroke="#b3304e">10</text>
<text x="419.25" y="242.5" font-size="6.3" text-anchor="middle" fill="#b3304e" stroke="#b3304e">(13)</text>
<line x1="419.25" y1="246.4" x2="419.25" y2="249.6" stroke="#222" stroke-width="1.3"/>
<text x="419.25" y="258.6" font-size="7.0" text-anchor="middle" fill="#2b2b2b" stroke="#2b2b2b">15</text>
<text x="0" y="0" transform="translate(436.32,217.50) scale(0.88,1)" font-size="7.1" text-anchor="middle" fill="#4e9046" stroke="#4e9046">37</text>
<text x="436.32" y="224.9" font-size="6.3" text-anchor="middle" fill="#4e9046" stroke="#4e9046">(9)</text>
<text x="0" y="0" transform="translate(436.32,235.10) scale(0.88,1)" font-size="7.1" text-anchor="middle" fill="#b3304e" stroke="#b3304e">8</text>
<text x="436.32" y="242.5" font-size="6.3" text-anchor="middle" fill="#b3304e" stroke="#b3304e">(15)</text>
<line x1="436.32" y1="246.4" x2="436.32" y2="249.6" stroke="#222" stroke-width="1.3"/>
<text x="436.32" y="258.6" font-size="7.0" text-anchor="middle" fill="#2b2b2b" stroke="#2b2b2b">18</text>
<text x="0" y="0" transform="translate(453.39,217.50) scale(0.88,1)" font-size="7.1" text-anchor="middle" fill="#4e9046" stroke="#4e9046">27</text>
<text x="453.39" y="224.9" font-size="6.3" text-anchor="middle" fill="#4e9046" stroke="#4e9046">(10)</text>
<text x="0" y="0" transform="translate(453.39,235.10) scale(0.88,1)" font-size="7.1" text-anchor="middle" fill="#b3304e" stroke="#b3304e">6</text>
<text x="453.39" y="242.5" font-size="6.3" text-anchor="middle" fill="#b3304e" stroke="#b3304e">(15)</text>
<line x1="453.39" y1="246.4" x2="453.39" y2="249.6" stroke="#222" stroke-width="1.3"/>
<text x="453.39" y="258.6" font-size="7.0" text-anchor="middle" fill="#2b2b2b" stroke="#2b2b2b">21</text>
<text x="0" y="0" transform="translate(470.46,217.50) scale(0.88,1)" font-size="7.1" text-anchor="middle" fill="#4e9046" stroke="#4e9046">15</text>
<text x="470.46" y="224.9" font-size="6.3" text-anchor="middle" fill="#4e9046" stroke="#4e9046">(10)</text>
<text x="0" y="0" transform="translate(470.46,235.10) scale(0.88,1)" font-size="7.1" text-anchor="middle" fill="#b3304e" stroke="#b3304e">3</text>
<text x="470.46" y="242.5" font-size="6.3" text-anchor="middle" fill="#b3304e" stroke="#b3304e">(15)</text>
<line x1="470.46" y1="246.4" x2="470.46" y2="249.6" stroke="#222" stroke-width="1.3"/>
<text x="470.46" y="258.6" font-size="7.0" text-anchor="middle" fill="#2b2b2b" stroke="#2b2b2b">24</text>
<text x="0" y="0" transform="translate(487.53,217.50) scale(0.88,1)" font-size="7.1" text-anchor="middle" fill="#4e9046" stroke="#4e9046">8</text>
<text x="487.53" y="224.9" font-size="6.3" text-anchor="middle" fill="#4e9046" stroke="#4e9046">(10)</text>
<text x="0" y="0" transform="translate(487.53,235.10) scale(0.88,1)" font-size="7.1" text-anchor="middle" fill="#b3304e" stroke="#b3304e">3</text>
<text x="487.53" y="242.5" font-size="6.3" text-anchor="middle" fill="#b3304e" stroke="#b3304e">(15)</text>
<line x1="487.53" y1="246.4" x2="487.53" y2="249.6" stroke="#222" stroke-width="1.3"/>
<text x="487.53" y="258.6" font-size="7.0" text-anchor="middle" fill="#2b2b2b" stroke="#2b2b2b">27</text>
<text x="0" y="0" transform="translate(504.60,217.50) scale(0.88,1)" font-size="7.1" text-anchor="middle" fill="#4e9046" stroke="#4e9046">0</text>
<text x="504.6" y="224.9" font-size="6.3" text-anchor="middle" fill="#4e9046" stroke="#4e9046">(10)</text>
<text x="0" y="0" transform="translate(504.60,235.10) scale(0.88,1)" font-size="7.1" text-anchor="middle" fill="#b3304e" stroke="#b3304e">0</text>
<text x="504.6" y="242.5" font-size="6.3" text-anchor="middle" fill="#b3304e" stroke="#b3304e">(15)</text>
<line x1="504.6" y1="246.4" x2="504.6" y2="249.6" stroke="#222" stroke-width="1.3"/>
<text x="504.6" y="258.6" font-size="7.0" text-anchor="middle" fill="#2b2b2b" stroke="#2b2b2b">30</text>
<text x="419.5" y="270.6" font-size="9.0" text-anchor="middle" textLength="114.7" lengthAdjust="spacingAndGlyphs" fill="#2b2b2b" stroke="#2b2b2b">Months post tisagenlecleucel infusion</text>
<text x="6.8" y="298.0" font-size="12" font-weight="bold" fill="#111" stroke="#111">C</text>
<text x="158.7" y="307.9" font-size="8.8" text-anchor="middle" textLength="163.5" lengthAdjust="spacingAndGlyphs" fill="#2b2b2b" stroke="#2b2b2b">Kaplan-Meier plots of PFS associated with</text>
<text x="158.5" y="318.3" font-size="8.8" text-anchor="middle" textLength="147.6" lengthAdjust="spacingAndGlyphs" fill="#2b2b2b" stroke="#2b2b2b">%LAG3<tspan font-size="5.2" dy="-3">+</tspan><tspan dy="3">CD3</tspan><tspan font-size="5.2" dy="-3">+</tspan><tspan dy="3"> cells in baseline tumors</tspan></text>
<text x="107.8" y="337.5" font-size="7.0" textLength="41.8" lengthAdjust="spacingAndGlyphs" fill="#2b2b2b" stroke="#2b2b2b">%LAG3<tspan font-size="4.6" dy="-2.4">+</tspan><tspan dy="2.4">CD3</tspan><tspan font-size="4.6" dy="-2.4">+</tspan></text>
<text x="186.4" y="330.4" font-size="7.0" text-anchor="middle" textLength="20.4" lengthAdjust="spacingAndGlyphs" fill="#2b2b2b" stroke="#2b2b2b">Events,</text>
<text x="186.0" y="337.5" font-size="7.0" text-anchor="middle" fill="#2b2b2b" stroke="#2b2b2b">n</text>
<text x="220.8" y="330.4" font-size="7.0" text-anchor="middle" textLength="36.5" lengthAdjust="spacingAndGlyphs" fill="#2b2b2b" stroke="#2b2b2b">Median PFS,</text>
<text x="220.8" y="337.5" font-size="7.0" text-anchor="middle" textLength="34.7" lengthAdjust="spacingAndGlyphs" fill="#2b2b2b" stroke="#2b2b2b">mo [95% CI]</text>
<line x1="107.3" y1="339.59999999999997" x2="242.9" y2="339.59999999999997" stroke="#333" stroke-width="0.9"/>
<rect x="98.20" y="342.30" width="6.4" height="6.4" fill="#d2e7c8"/>
<line x1="98.19999999999999" y1="345.49999999999994" x2="104.6" y2="345.49999999999994" stroke="#4f9f4c" stroke-width="1.1"/>
<line x1="101.39999999999999" y1="343.69999999999993" x2="101.39999999999999" y2="347.29999999999995" stroke="#4f9f4c" stroke-width="0.8"/>
<text x="107.8" y="348.09999999999997" font-size="7.0" textLength="52.6" lengthAdjust="spacingAndGlyphs" fill="#2b2b2b" stroke="#2b2b2b">Low: &lt;3% (n = 50)</text>
<text x="186.0" y="348.09999999999997" font-size="7.0" text-anchor="middle" fill="#2b2b2b" stroke="#2b2b2b">17</text>
<text x="221.0" y="348.09999999999997" font-size="7.0" text-anchor="middle" textLength="33.4" lengthAdjust="spacingAndGlyphs" fill="#2b2b2b" stroke="#2b2b2b">NE [18-NE]</text>
<rect x="98.20" y="352.30" width="6.4" height="6.4" fill="#f0b9b0"/>
<line x1="98.19999999999999" y1="355.49999999999994" x2="104.6" y2="355.49999999999994" stroke="#ae2638" stroke-width="1.1"/>
<line x1="101.39999999999999" y1="353.69999999999993" x2="101.39999999999999" y2="357.29999999999995" stroke="#ae2638" stroke-width="0.8"/>
<text x="107.8" y="358.09999999999997" font-size="7.0" textLength="54.2" lengthAdjust="spacingAndGlyphs" fill="#2b2b2b" stroke="#2b2b2b">High: ≥3% (n = 17)</text>
<text x="186.0" y="358.09999999999997" font-size="7.0" text-anchor="middle" fill="#2b2b2b" stroke="#2b2b2b">13</text>
<text x="221.0" y="358.09999999999997" font-size="7.0" text-anchor="middle" textLength="23.1" lengthAdjust="spacingAndGlyphs" fill="#2b2b2b" stroke="#2b2b2b">6 [3-18]</text>
<path d="M73.30,365.30 L88.10,365.30 L88.10,365.80 L89.20,365.80 L89.20,370.00 L102.90,370.00 L102.90,371.60 L108.20,371.60 L108.20,373.80 L139.50,373.80 L139.50,385.30 L241.00,385.30 L241.00,387.30 L246.00,387.30 L246.00,414.00 L241.00,414.00 L241.00,407.70 L207.20,407.70 L207.20,405.50 L176.00,405.50 L176.00,403.50 L141.90,403.50 L141.90,398.00 L128.50,398.00 L128.50,392.80 L106.10,392.80 L106.10,390.70 L89.20,390.70 L89.20,376.00 L88.10,376.00 L88.10,370.00 L78.00,370.00 L78.00,365.30 L73.30,365.30Z" fill="#d2e7c8"/>
<path d="M73.30,365.30 L78.00,365.30 L78.00,366.00 L89.20,366.00 L89.20,374.80 L106.10,374.80 L106.10,396.00 L139.50,396.00 L139.50,400.30 L175.50,400.30 L175.50,409.80 L246.00,409.80 L246.00,440.10 L175.50,440.10 L175.50,433.50 L139.50,433.50 L139.50,431.10 L108.00,431.10 L108.00,420.40 L104.50,420.40 L104.50,413.00 L100.50,413.00 L100.50,411.90 L89.20,411.90 L89.20,392.80 L78.00,392.80 L78.00,365.30 L73.30,365.30Z" fill="#e67366" fill-opacity="0.5"/>
<path d="M73.30,365.30H88.10V366.90H89.20V372.20H92.50V373.20H102.90V374.80H105.00V376.90H107.00V378.50H109.30V380.60H110.30V381.70H126.90V382.90H131.60V384.50H136.40V386.00H141.90V388.50H143.50V390.50H176.00V392.50H207.20V394.70H241.00V398.60H247.00" fill="none" stroke="#4f9f4c" stroke-width="1.15"/>
<path d="M73.30,365.30H78.00V370.40H88.60V372.70H90.20V383.30H91.30V388.60H101.30V393.90H104.50V397.00H106.10V401.30H107.70V407.60H108.70V411.90H139.50V416.90H175.50V427.20H247.00" fill="none" stroke="#ae2638" stroke-width="1.15"/>
<line x1="210" y1="393.09999999999997" x2="210" y2="396.3" stroke="#4f9f4c" stroke-width="0.7"/>
<line x1="214" y1="393.09999999999997" x2="214" y2="396.3" stroke="#4f9f4c" stroke-width="0.7"/>
<line x1="218" y1="393.09999999999997" x2="218" y2="396.3" stroke="#4f9f4c" stroke-width="0.7"/>
<line x1="243" y1="397.0" x2="243" y2="400.20000000000005" stroke="#4f9f4c" stroke-width="0.7"/>
<line x1="206" y1="425.59999999999997" x2="206" y2="428.8" stroke="#ae2638" stroke-width="0.7"/>
<line x1="211" y1="425.59999999999997" x2="211" y2="428.8" stroke="#ae2638" stroke-width="0.7"/>
<line x1="244" y1="425.59999999999997" x2="244" y2="428.8" stroke="#ae2638" stroke-width="0.7"/>
<line x1="65.2" y1="362.2" x2="65.2" y2="451.05" stroke="#222" stroke-width="1.2"/>
<line x1="64.60000000000001" y1="450.5" x2="252.70000000000002" y2="450.5" stroke="#222" stroke-width="1.2"/>
<line x1="61.800000000000004" y1="446.4" x2="65.2" y2="446.4" stroke="#222" stroke-width="1.3"/>
<text x="59.4" y="448.9" font-size="7.0" text-anchor="end" fill="#2b2b2b" stroke="#2b2b2b">0</text>
<line x1="61.800000000000004" y1="426.15" x2="65.2" y2="426.15" stroke="#222" stroke-width="1.3"/>
<text x="59.4" y="428.65" font-size="7.0" text-anchor="end" fill="#2b2b2b" stroke="#2b2b2b">25</text>
<line x1="61.800000000000004" y1="405.9" x2="65.2" y2="405.9" stroke="#222" stroke-width="1.3"/>
<text x="59.4" y="408.4" font-size="7.0" text-anchor="end" fill="#2b2b2b" stroke="#2b2b2b">50</text>
<line x1="61.800000000000004" y1="385.65" x2="65.2" y2="385.65" stroke="#222" stroke-width="1.3"/>
<text x="59.4" y="388.15" font-size="7.0" text-anchor="end" fill="#2b2b2b" stroke="#2b2b2b">75</text>
<line x1="61.800000000000004" y1="365.4" x2="65.2" y2="365.4" stroke="#222" stroke-width="1.3"/>
<text x="59.4" y="367.9" font-size="7.0" text-anchor="end" textLength="10.2" lengthAdjust="spacingAndGlyphs" fill="#2b2b2b" stroke="#2b2b2b">100</text>
<line x1="73.30000000000001" y1="450.5" x2="73.30000000000001" y2="453.7" stroke="#222" stroke-width="1.3"/>
<text x="73.30000000000001" y="462.2" font-size="7.0" text-anchor="middle" fill="#2b2b2b" stroke="#2b2b2b">0</text>
<line x1="90.37" y1="450.5" x2="90.37" y2="453.7" stroke="#222" stroke-width="1.3"/>
<text x="90.37" y="462.2" font-size="7.0" text-anchor="middle" fill="#2b2b2b" stroke="#2b2b2b">3</text>
<line x1="107.44000000000001" y1="450.5" x2="107.44000000000001" y2="453.7" stroke="#222" stroke-width="1.3"/>
<text x="107.44000000000001" y="462.2" font-size="7.0" text-anchor="middle" fill="#2b2b2b" stroke="#2b2b2b">6</text>
<line x1="124.51000000000002" y1="450.5" x2="124.51000000000002" y2="453.7" stroke="#222" stroke-width="1.3"/>
<text x="124.51000000000002" y="462.2" font-size="7.0" text-anchor="middle" fill="#2b2b2b" stroke="#2b2b2b">9</text>
<line x1="141.58" y1="450.5" x2="141.58" y2="453.7" stroke="#222" stroke-width="1.3"/>
<text x="141.58" y="462.2" font-size="7.0" text-anchor="middle" fill="#2b2b2b" stroke="#2b2b2b">12</text>
<line x1="158.65000000000003" y1="450.5" x2="158.65000000000003" y2="453.7" stroke="#222" stroke-width="1.3"/>
<text x="158.65000000000003" y="462.2" font-size="7.0" text-anchor="middle" fill="#2b2b2b" stroke="#2b2b2b">15</text>
<line x1="175.72000000000003" y1="450.5" x2="175.72000000000003" y2="453.7" stroke="#222" stroke-width="1.3"/>
<text x="175.72000000000003" y="462.2" font-size="7.0" text-anchor="middle" fill="#2b2b2b" stroke="#2b2b2b">18</text>
<line x1="192.79000000000002" y1="450.5" x2="192.79000000000002" y2="453.7" stroke="#222" stroke-width="1.3"/>
<text x="192.79000000000002" y="462.2" font-size="7.0" text-anchor="middle" fill="#2b2b2b" stroke="#2b2b2b">21</text>
<line x1="209.86" y1="450.5" x2="209.86" y2="453.7" stroke="#222" stroke-width="1.3"/>
<text x="209.86" y="462.2" font-size="7.0" text-anchor="middle" fill="#2b2b2b" stroke="#2b2b2b">24</text>
<line x1="226.93000000000004" y1="450.5" x2="226.93000000000004" y2="453.7" stroke="#222" stroke-width="1.3"/>
<text x="226.93000000000004" y="462.2" font-size="7.0" text-anchor="middle" fill="#2b2b2b" stroke="#2b2b2b">27</text>
<line x1="244.00000000000003" y1="450.5" x2="244.00000000000003" y2="453.7" stroke="#222" stroke-width="1.3"/>
<text x="244.00000000000003" y="462.2" font-size="7.0" text-anchor="middle" fill="#2b2b2b" stroke="#2b2b2b">30</text>
<text x="158.9" y="475.0" font-size="9.0" text-anchor="middle" textLength="114.7" lengthAdjust="spacingAndGlyphs" fill="#2b2b2b" stroke="#2b2b2b">Months post tisagenlecleucel infusion</text>
<text x="0" y="0" font-size="9.0" text-anchor="middle" textLength="58" lengthAdjust="spacingAndGlyphs" fill="#2b2b2b" stroke="#2b2b2b" transform="translate(43.3,405.79999999999995) rotate(-90)">PFS probability (%)</text>
<text x="71.0" y="447.2" font-size="7.0" fill="#2b2b2b" stroke="#2b2b2b" textLength="27.8" lengthAdjust="spacingAndGlyphs"><tspan font-style="italic">P</tspan> = .0017</text>
<text x="19.2" y="485.7" font-size="6.7" textLength="43" lengthAdjust="spacingAndGlyphs" fill="#2b2b2b" stroke="#2b2b2b">Number at risk</text>
<text x="19.2" y="493.79999999999995" font-size="6.7" textLength="54.8" lengthAdjust="spacingAndGlyphs" fill="#2b2b2b" stroke="#2b2b2b">(number of events)</text>
<text x="19.2" y="507.0" font-size="6.7" textLength="28.75" lengthAdjust="spacingAndGlyphs" fill="#4e9046" stroke="#4e9046">Low: &lt;3%</text>
<text x="19.2" y="524.8" font-size="6.7" textLength="30.5" lengthAdjust="spacingAndGlyphs" fill="#b3304e" stroke="#b3304e">High: ≥3%</text>
<line x1="65.60000000000001" y1="501.59999999999997" x2="65.60000000000001" y2="536.3499999999999" stroke="#222" stroke-width="1.2"/>
<line x1="65.00000000000001" y1="535.8" x2="252.0" y2="535.8" stroke="#222" stroke-width="1.2"/>
<text x="0" y="0" transform="translate(73.30,506.90) scale(0.88,1)" font-size="7.1" text-anchor="middle" fill="#4e9046" stroke="#4e9046">50</text>
<text x="73.30000000000001" y="514.3" font-size="6.3" text-anchor="middle" fill="#4e9046" stroke="#4e9046">(0)</text>
<text x="0" y="0" transform="translate(73.30,524.50) scale(0.88,1)" font-size="7.1" text-anchor="middle" fill="#b3304e" stroke="#b3304e">17</text>
<text x="73.30000000000001" y="531.9" font-size="6.3" text-anchor="middle" fill="#b3304e" stroke="#b3304e">(0)</text>
<line x1="73.30000000000001" y1="535.8" x2="73.30000000000001" y2="539.0" stroke="#222" stroke-width="1.3"/>
<text x="73.30000000000001" y="548.0" font-size="7.0" text-anchor="middle" fill="#2b2b2b" stroke="#2b2b2b">0</text>
<text x="0" y="0" transform="translate(90.37,506.90) scale(0.88,1)" font-size="7.1" text-anchor="middle" fill="#4e9046" stroke="#4e9046">42</text>
<text x="90.37" y="514.3" font-size="6.3" text-anchor="middle" fill="#4e9046" stroke="#4e9046">(4)</text>
<text x="0" y="0" transform="translate(90.37,524.50) scale(0.88,1)" font-size="7.1" text-anchor="middle" fill="#b3304e" stroke="#b3304e">13</text>
<text x="90.37" y="531.9" font-size="6.3" text-anchor="middle" fill="#b3304e" stroke="#b3304e">(4)</text>
<line x1="90.37" y1="535.8" x2="90.37" y2="539.0" stroke="#222" stroke-width="1.3"/>
<text x="90.37" y="548.0" font-size="7.0" text-anchor="middle" fill="#2b2b2b" stroke="#2b2b2b">3</text>
<text x="0" y="0" transform="translate(107.44,506.90) scale(0.88,1)" font-size="7.1" text-anchor="middle" fill="#4e9046" stroke="#4e9046">36</text>
<text x="107.44000000000001" y="514.3" font-size="6.3" text-anchor="middle" fill="#4e9046" stroke="#4e9046">(8)</text>
<text x="0" y="0" transform="translate(107.44,524.50) scale(0.88,1)" font-size="7.1" text-anchor="middle" fill="#b3304e" stroke="#b3304e">8</text>
<text x="107.44000000000001" y="531.9" font-size="6.3" text-anchor="middle" fill="#b3304e" stroke="#b3304e">(9)</text>
<line x1="107.44000000000001" y1="535.8" x2="107.44000000000001" y2="539.0" stroke="#222" stroke-width="1.3"/>
<text x="107.44000000000001" y="548.0" font-size="7.0" text-anchor="middle" fill="#2b2b2b" stroke="#2b2b2b">6</text>
<text x="0" y="0" transform="translate(124.51,506.90) scale(0.88,1)" font-size="7.1" text-anchor="middle" fill="#4e9046" stroke="#4e9046">34</text>
<text x="124.51000000000002" y="514.3" font-size="6.3" text-anchor="middle" fill="#4e9046" stroke="#4e9046">(9)</text>
<text x="0" y="0" transform="translate(124.51,524.50) scale(0.88,1)" font-size="7.1" text-anchor="middle" fill="#b3304e" stroke="#b3304e">7</text>
<text x="124.51000000000002" y="531.9" font-size="6.3" text-anchor="middle" fill="#b3304e" stroke="#b3304e">(10)</text>
<line x1="124.51000000000002" y1="535.8" x2="124.51000000000002" y2="539.0" stroke="#222" stroke-width="1.3"/>
<text x="124.51000000000002" y="548.0" font-size="7.0" text-anchor="middle" fill="#2b2b2b" stroke="#2b2b2b">9</text>
<text x="0" y="0" transform="translate(141.58,506.90) scale(0.88,1)" font-size="7.1" text-anchor="middle" fill="#4e9046" stroke="#4e9046">31</text>
<text x="141.58" y="514.3" font-size="6.3" text-anchor="middle" fill="#4e9046" stroke="#4e9046">(12)</text>
<text x="0" y="0" transform="translate(141.58,524.50) scale(0.88,1)" font-size="7.1" text-anchor="middle" fill="#b3304e" stroke="#b3304e">6</text>
<text x="141.58" y="531.9" font-size="6.3" text-anchor="middle" fill="#b3304e" stroke="#b3304e">(11)</text>
<line x1="141.58" y1="535.8" x2="141.58" y2="539.0" stroke="#222" stroke-width="1.3"/>
<text x="141.58" y="548.0" font-size="7.0" text-anchor="middle" fill="#2b2b2b" stroke="#2b2b2b">12</text>
<text x="0" y="0" transform="translate(158.65,506.90) scale(0.88,1)" font-size="7.1" text-anchor="middle" fill="#4e9046" stroke="#4e9046">29</text>
<text x="158.65000000000003" y="514.3" font-size="6.3" text-anchor="middle" fill="#4e9046" stroke="#4e9046">(14)</text>
<text x="0" y="0" transform="translate(158.65,524.50) scale(0.88,1)" font-size="7.1" text-anchor="middle" fill="#b3304e" stroke="#b3304e">6</text>
<text x="158.65000000000003" y="531.9" font-size="6.3" text-anchor="middle" fill="#b3304e" stroke="#b3304e">(11)</text>
<line x1="158.65000000000003" y1="535.8" x2="158.65000000000003" y2="539.0" stroke="#222" stroke-width="1.3"/>
<text x="158.65000000000003" y="548.0" font-size="7.0" text-anchor="middle" fill="#2b2b2b" stroke="#2b2b2b">15</text>
<text x="0" y="0" transform="translate(175.72,506.90) scale(0.88,1)" font-size="7.1" text-anchor="middle" fill="#4e9046" stroke="#4e9046">26</text>
<text x="175.72000000000003" y="514.3" font-size="6.3" text-anchor="middle" fill="#4e9046" stroke="#4e9046">(15)</text>
<text x="0" y="0" transform="translate(175.72,524.50) scale(0.88,1)" font-size="7.1" text-anchor="middle" fill="#b3304e" stroke="#b3304e">5</text>
<text x="175.72000000000003" y="531.9" font-size="6.3" text-anchor="middle" fill="#b3304e" stroke="#b3304e">(12)</text>
<line x1="175.72000000000003" y1="535.8" x2="175.72000000000003" y2="539.0" stroke="#222" stroke-width="1.3"/>
<text x="175.72000000000003" y="548.0" font-size="7.0" text-anchor="middle" fill="#2b2b2b" stroke="#2b2b2b">18</text>
<text x="0" y="0" transform="translate(192.79,506.90) scale(0.88,1)" font-size="7.1" text-anchor="middle" fill="#4e9046" stroke="#4e9046">26</text>
<text x="192.79000000000002" y="514.3" font-size="6.3" text-anchor="middle" fill="#4e9046" stroke="#4e9046">(15)</text>
<text x="0" y="0" transform="translate(192.79,524.50) scale(0.88,1)" font-size="7.1" text-anchor="middle" fill="#b3304e" stroke="#b3304e">4</text>
<text x="192.79000000000002" y="531.9" font-size="6.3" text-anchor="middle" fill="#b3304e" stroke="#b3304e">(13)</text>
<line x1="192.79000000000002" y1="535.8" x2="192.79000000000002" y2="539.0" stroke="#222" stroke-width="1.3"/>
<text x="192.79000000000002" y="548.0" font-size="7.0" text-anchor="middle" fill="#2b2b2b" stroke="#2b2b2b">21</text>
<text x="0" y="0" transform="translate(209.86,506.90) scale(0.88,1)" font-size="7.1" text-anchor="middle" fill="#4e9046" stroke="#4e9046">19</text>
<text x="209.86" y="514.3" font-size="6.3" text-anchor="middle" fill="#4e9046" stroke="#4e9046">(16)</text>
<text x="0" y="0" transform="translate(209.86,524.50) scale(0.88,1)" font-size="7.1" text-anchor="middle" fill="#b3304e" stroke="#b3304e">3</text>
<text x="209.86" y="531.9" font-size="6.3" text-anchor="middle" fill="#b3304e" stroke="#b3304e">(13)</text>
<line x1="209.86" y1="535.8" x2="209.86" y2="539.0" stroke="#222" stroke-width="1.3"/>
<text x="209.86" y="548.0" font-size="7.0" text-anchor="middle" fill="#2b2b2b" stroke="#2b2b2b">24</text>
<text x="0" y="0" transform="translate(226.93,506.90) scale(0.88,1)" font-size="7.1" text-anchor="middle" fill="#4e9046" stroke="#4e9046">11</text>
<text x="226.93000000000004" y="514.3" font-size="6.3" text-anchor="middle" fill="#4e9046" stroke="#4e9046">(16)</text>
<text x="0" y="0" transform="translate(226.93,524.50) scale(0.88,1)" font-size="7.1" text-anchor="middle" fill="#b3304e" stroke="#b3304e">2</text>
<text x="226.93000000000004" y="531.9" font-size="6.3" text-anchor="middle" fill="#b3304e" stroke="#b3304e">(13)</text>
<line x1="226.93000000000004" y1="535.8" x2="226.93000000000004" y2="539.0" stroke="#222" stroke-width="1.3"/>
<text x="226.93000000000004" y="548.0" font-size="7.0" text-anchor="middle" fill="#2b2b2b" stroke="#2b2b2b">27</text>
<text x="0" y="0" transform="translate(244.00,506.90) scale(0.88,1)" font-size="7.1" text-anchor="middle" fill="#4e9046" stroke="#4e9046">3</text>
<text x="244.00000000000003" y="514.3" font-size="6.3" text-anchor="middle" fill="#4e9046" stroke="#4e9046">(17)</text>
<text x="0" y="0" transform="translate(244.00,524.50) scale(0.88,1)" font-size="7.1" text-anchor="middle" fill="#b3304e" stroke="#b3304e">1</text>
<text x="244.00000000000003" y="531.9" font-size="6.3" text-anchor="middle" fill="#b3304e" stroke="#b3304e">(13)</text>
<line x1="244.00000000000003" y1="535.8" x2="244.00000000000003" y2="539.0" stroke="#222" stroke-width="1.3"/>
<text x="244.00000000000003" y="548.0" font-size="7.0" text-anchor="middle" fill="#2b2b2b" stroke="#2b2b2b">30</text>
<text x="158.9" y="560.0" font-size="9.0" text-anchor="middle" textLength="114.7" lengthAdjust="spacingAndGlyphs" fill="#2b2b2b" stroke="#2b2b2b">Months post tisagenlecleucel infusion</text>
<text x="267.8" y="298.0" font-size="12" font-weight="bold" fill="#111" stroke="#111">D</text>
<text x="419.75" y="307.9" font-size="8.8" text-anchor="middle" textLength="167.9" lengthAdjust="spacingAndGlyphs" fill="#2b2b2b" stroke="#2b2b2b">Kaplan-Meier plots of DOR associated with</text>
<text x="419.7" y="318.3" font-size="8.8" text-anchor="middle" textLength="148.6" lengthAdjust="spacingAndGlyphs" fill="#2b2b2b" stroke="#2b2b2b">%LAG3<tspan font-size="5.2" dy="-3">+</tspan><tspan dy="3">CD3</tspan><tspan font-size="5.2" dy="-3">+</tspan><tspan dy="3"> cells in baseline tumors</tspan></text>
<text x="368.5" y="337.5" font-size="7.0" textLength="41.8" lengthAdjust="spacingAndGlyphs" fill="#2b2b2b" stroke="#2b2b2b">%LAG3<tspan font-size="4.6" dy="-2.4">+</tspan><tspan dy="2.4">CD3</tspan><tspan font-size="4.6" dy="-2.4">+</tspan></text>
<text x="447" y="330.4" font-size="7.0" text-anchor="middle" textLength="20.4" lengthAdjust="spacingAndGlyphs" fill="#2b2b2b" stroke="#2b2b2b">Events,</text>
<text x="446.6" y="337.5" font-size="7.0" text-anchor="middle" fill="#2b2b2b" stroke="#2b2b2b">n</text>
<text x="481.4" y="330.4" font-size="7.0" text-anchor="middle" textLength="39.5" lengthAdjust="spacingAndGlyphs" fill="#2b2b2b" stroke="#2b2b2b">Median DOR,</text>
<text x="481.4" y="337.5" font-size="7.0" text-anchor="middle" textLength="34.7" lengthAdjust="spacingAndGlyphs" fill="#2b2b2b" stroke="#2b2b2b">mo [95% CI]</text>
<line x1="368.0" y1="339.59999999999997" x2="503.5" y2="339.59999999999997" stroke="#333" stroke-width="0.9"/>
<rect x="358.90" y="342.30" width="6.4" height="6.4" fill="#d2e7c8"/>
<line x1="358.90000000000003" y1="345.49999999999994" x2="365.3" y2="345.49999999999994" stroke="#4f9f4c" stroke-width="1.1"/>
<line x1="362.1" y1="343.69999999999993" x2="362.1" y2="347.29999999999995" stroke="#4f9f4c" stroke-width="0.8"/>
<text x="368.5" y="348.09999999999997" font-size="7.0" textLength="51.9" lengthAdjust="spacingAndGlyphs" fill="#2b2b2b" stroke="#2b2b2b">Low: &lt;3% (n = 44)</text>
<text x="446.6" y="348.09999999999997" font-size="7.0" text-anchor="middle" fill="#2b2b2b" stroke="#2b2b2b">12</text>
<text x="481.6" y="348.09999999999997" font-size="7.0" text-anchor="middle" textLength="34.6" lengthAdjust="spacingAndGlyphs" fill="#2b2b2b" stroke="#2b2b2b">NE [NE-NE]</text>
<rect x="358.90" y="352.30" width="6.4" height="6.4" fill="#f0b9b0"/>
<line x1="358.90000000000003" y1="355.49999999999994" x2="365.3" y2="355.49999999999994" stroke="#ae2638" stroke-width="1.1"/>
<line x1="362.1" y1="353.69999999999993" x2="362.1" y2="357.29999999999995" stroke="#ae2638" stroke-width="0.8"/>
<text x="368.5" y="358.09999999999997" font-size="7.0" textLength="54.8" lengthAdjust="spacingAndGlyphs" fill="#2b2b2b" stroke="#2b2b2b">High: ≥3% (n = 12)</text>
<text x="446.6" y="358.09999999999997" font-size="7.0" text-anchor="middle" fill="#2b2b2b" stroke="#2b2b2b">8</text>
<text x="481.6" y="358.09999999999997" font-size="7.0" text-anchor="middle" textLength="41.7" lengthAdjust="spacingAndGlyphs" fill="#2b2b2b" stroke="#2b2b2b">11.9 [2.17-NE]</text>
<path d="M333.90,365.50 L346.50,365.50 L346.50,367.00 L348.00,367.00 L348.00,368.50 L357.00,368.50 L357.00,371.90 L383.40,371.90 L383.40,377.00 L420.50,377.00 L420.50,378.80 L452.50,378.80 L452.50,381.00 L502.00,381.00 L502.00,403.80 L452.50,403.80 L452.50,399.80 L420.50,399.80 L420.50,398.20 L384.70,398.20 L384.70,391.60 L353.00,391.60 L353.00,379.80 L346.50,379.80 L346.50,374.00 L342.00,374.00 L342.00,371.00 L339.00,371.00 L339.00,368.00 L336.00,368.00 L336.00,365.50 L333.90,365.50Z" fill="#d2e7c8"/>
<path d="M333.90,365.50 L345.80,365.50 L345.80,374.50 L347.80,374.50 L347.80,378.50 L353.00,378.50 L353.00,381.80 L384.70,381.80 L384.70,387.00 L420.50,387.00 L420.50,399.50 L501.00,399.50 L501.00,438.50 L420.50,438.50 L420.50,429.90 L386.00,429.90 L386.00,424.60 L352.40,424.60 L352.40,412.70 L347.80,412.70 L347.80,399.50 L345.80,399.50 L345.80,365.50 L333.90,365.50Z" fill="#e67366" fill-opacity="0.5"/>
<path d="M333.90,365.50H346.50V367.30H348.50V369.90H351.00V372.50H355.00V374.50H357.50V376.50H359.50V377.10H370.20V379.10H382.00V381.10H384.70V383.10H387.30V384.40H389.30V385.70H420.50V388.10H452.50V390.30H502.30" fill="none" stroke="#4f9f4c" stroke-width="1.15"/>
<path d="M333.90,365.50H345.80V378.50H347.00V385.00H351.50V391.60H352.40V398.50H386.00V405.90H419.40V412.40H420.50V419.30H501.20" fill="none" stroke="#ae2638" stroke-width="1.15"/>
<line x1="452" y1="386.5" x2="452" y2="389.70000000000005" stroke="#4f9f4c" stroke-width="0.7"/>
<line x1="456" y1="388.7" x2="456" y2="391.90000000000003" stroke="#4f9f4c" stroke-width="0.7"/>
<line x1="459" y1="388.7" x2="459" y2="391.90000000000003" stroke="#4f9f4c" stroke-width="0.7"/>
<line x1="487" y1="388.7" x2="487" y2="391.90000000000003" stroke="#4f9f4c" stroke-width="0.7"/>
<line x1="490" y1="388.7" x2="490" y2="391.90000000000003" stroke="#4f9f4c" stroke-width="0.7"/>
<line x1="502" y1="388.7" x2="502" y2="391.90000000000003" stroke="#4f9f4c" stroke-width="0.7"/>
<line x1="451" y1="417.7" x2="451" y2="420.90000000000003" stroke="#ae2638" stroke-width="0.7"/>
<line x1="456" y1="417.7" x2="456" y2="420.90000000000003" stroke="#ae2638" stroke-width="0.7"/>
<line x1="489" y1="417.7" x2="489" y2="420.90000000000003" stroke="#ae2638" stroke-width="0.7"/>
<line x1="501" y1="417.7" x2="501" y2="420.90000000000003" stroke="#ae2638" stroke-width="0.7"/>
<line x1="325.8" y1="362.2" x2="325.8" y2="451.05" stroke="#222" stroke-width="1.2"/>
<line x1="325.2" y1="450.5" x2="513.3" y2="450.5" stroke="#222" stroke-width="1.2"/>
<line x1="322.40000000000003" y1="446.4" x2="325.8" y2="446.4" stroke="#222" stroke-width="1.3"/>
<text x="320.0" y="448.9" font-size="7.0" text-anchor="end" fill="#2b2b2b" stroke="#2b2b2b">0</text>
<line x1="322.40000000000003" y1="426.15" x2="325.8" y2="426.15" stroke="#222" stroke-width="1.3"/>
<text x="320.0" y="428.65" font-size="7.0" text-anchor="end" fill="#2b2b2b" stroke="#2b2b2b">25</text>
<line x1="322.40000000000003" y1="405.9" x2="325.8" y2="405.9" stroke="#222" stroke-width="1.3"/>
<text x="320.0" y="408.4" font-size="7.0" text-anchor="end" fill="#2b2b2b" stroke="#2b2b2b">50</text>
<line x1="322.40000000000003" y1="385.65" x2="325.8" y2="385.65" stroke="#222" stroke-width="1.3"/>
<text x="320.0" y="388.15" font-size="7.0" text-anchor="end" fill="#2b2b2b" stroke="#2b2b2b">75</text>
<line x1="322.40000000000003" y1="365.4" x2="325.8" y2="365.4" stroke="#222" stroke-width="1.3"/>
<text x="320.0" y="367.9" font-size="7.0" text-anchor="end" textLength="10.2" lengthAdjust="spacingAndGlyphs" fill="#2b2b2b" stroke="#2b2b2b">100</text>
<line x1="333.9" y1="450.5" x2="333.9" y2="453.7" stroke="#222" stroke-width="1.3"/>
<text x="333.9" y="462.2" font-size="7.0" text-anchor="middle" fill="#2b2b2b" stroke="#2b2b2b">0</text>
<line x1="350.96999999999997" y1="450.5" x2="350.96999999999997" y2="453.7" stroke="#222" stroke-width="1.3"/>
<text x="350.96999999999997" y="462.2" font-size="7.0" text-anchor="middle" fill="#2b2b2b" stroke="#2b2b2b">3</text>
<line x1="368.03999999999996" y1="450.5" x2="368.03999999999996" y2="453.7" stroke="#222" stroke-width="1.3"/>
<text x="368.03999999999996" y="462.2" font-size="7.0" text-anchor="middle" fill="#2b2b2b" stroke="#2b2b2b">6</text>
<line x1="385.10999999999996" y1="450.5" x2="385.10999999999996" y2="453.7" stroke="#222" stroke-width="1.3"/>
<text x="385.10999999999996" y="462.2" font-size="7.0" text-anchor="middle" fill="#2b2b2b" stroke="#2b2b2b">9</text>
<line x1="402.17999999999995" y1="450.5" x2="402.17999999999995" y2="453.7" stroke="#222" stroke-width="1.3"/>
<text x="402.17999999999995" y="462.2" font-size="7.0" text-anchor="middle" fill="#2b2b2b" stroke="#2b2b2b">12</text>
<line x1="419.25" y1="450.5" x2="419.25" y2="453.7" stroke="#222" stroke-width="1.3"/>
<text x="419.25" y="462.2" font-size="7.0" text-anchor="middle" fill="#2b2b2b" stroke="#2b2b2b">15</text>
<line x1="436.32" y1="450.5" x2="436.32" y2="453.7" stroke="#222" stroke-width="1.3"/>
<text x="436.32" y="462.2" font-size="7.0" text-anchor="middle" fill="#2b2b2b" stroke="#2b2b2b">18</text>
<line x1="453.39" y1="450.5" x2="453.39" y2="453.7" stroke="#222" stroke-width="1.3"/>
<text x="453.39" y="462.2" font-size="7.0" text-anchor="middle" fill="#2b2b2b" stroke="#2b2b2b">21</text>
<line x1="470.46" y1="450.5" x2="470.46" y2="453.7" stroke="#222" stroke-width="1.3"/>
<text x="470.46" y="462.2" font-size="7.0" text-anchor="middle" fill="#2b2b2b" stroke="#2b2b2b">24</text>
<line x1="487.53" y1="450.5" x2="487.53" y2="453.7" stroke="#222" stroke-width="1.3"/>
<text x="487.53" y="462.2" font-size="7.0" text-anchor="middle" fill="#2b2b2b" stroke="#2b2b2b">27</text>
<line x1="504.6" y1="450.5" x2="504.6" y2="453.7" stroke="#222" stroke-width="1.3"/>
<text x="504.6" y="462.2" font-size="7.0" text-anchor="middle" fill="#2b2b2b" stroke="#2b2b2b">30</text>
<text x="419.5" y="475.0" font-size="9.0" text-anchor="middle" textLength="114.7" lengthAdjust="spacingAndGlyphs" fill="#2b2b2b" stroke="#2b2b2b">Months post tisagenlecleucel infusion</text>
<text x="0" y="0" font-size="9.0" text-anchor="middle" textLength="61" lengthAdjust="spacingAndGlyphs" fill="#2b2b2b" stroke="#2b2b2b" transform="translate(303.9,405.79999999999995) rotate(-90)">DOR probability (%)</text>
<text x="331.9" y="447.2" font-size="7.0" fill="#2b2b2b" stroke="#2b2b2b" textLength="27.7" lengthAdjust="spacingAndGlyphs"><tspan font-style="italic">P</tspan> = .0086</text>
<text x="280.2" y="485.7" font-size="6.7" textLength="43" lengthAdjust="spacingAndGlyphs" fill="#2b2b2b" stroke="#2b2b2b">Number at risk</text>
<text x="280.2" y="493.79999999999995" font-size="6.7" textLength="54.8" lengthAdjust="spacingAndGlyphs" fill="#2b2b2b" stroke="#2b2b2b">(number of events)</text>
<text x="280.2" y="507.0" font-size="6.7" textLength="28.75" lengthAdjust="spacingAndGlyphs" fill="#4e9046" stroke="#4e9046">Low: &lt;3%</text>
<text x="280.2" y="524.8" font-size="6.7" textLength="30.5" lengthAdjust="spacingAndGlyphs" fill="#b3304e" stroke="#b3304e">High: ≥3%</text>
<line x1="326.2" y1="501.59999999999997" x2="326.2" y2="536.3499999999999" stroke="#222" stroke-width="1.2"/>
<line x1="325.59999999999997" y1="535.8" x2="512.6" y2="535.8" stroke="#222" stroke-width="1.2"/>
<text x="0" y="0" transform="translate(333.90,506.90) scale(0.88,1)" font-size="7.1" text-anchor="middle" fill="#4e9046" stroke="#4e9046">44</text>
<text x="333.9" y="514.3" font-size="6.3" text-anchor="middle" fill="#4e9046" stroke="#4e9046">(0)</text>
<text x="0" y="0" transform="translate(333.90,524.50) scale(0.88,1)" font-size="7.1" text-anchor="middle" fill="#b3304e" stroke="#b3304e">12</text>
<text x="333.9" y="531.9" font-size="6.3" text-anchor="middle" fill="#b3304e" stroke="#b3304e">(0)</text>
<line x1="333.9" y1="535.8" x2="333.9" y2="539.0" stroke="#222" stroke-width="1.3"/>
<text x="333.9" y="548.0" font-size="7.0" text-anchor="middle" fill="#2b2b2b" stroke="#2b2b2b">0</text>
<text x="0" y="0" transform="translate(350.97,506.90) scale(0.88,1)" font-size="7.1" text-anchor="middle" fill="#4e9046" stroke="#4e9046">39</text>
<text x="350.96999999999997" y="514.3" font-size="6.3" text-anchor="middle" fill="#4e9046" stroke="#4e9046">(3)</text>
<text x="0" y="0" transform="translate(350.97,524.50) scale(0.88,1)" font-size="7.1" text-anchor="middle" fill="#b3304e" stroke="#b3304e">8</text>
<text x="350.96999999999997" y="531.9" font-size="6.3" text-anchor="middle" fill="#b3304e" stroke="#b3304e">(4)</text>
<line x1="350.96999999999997" y1="535.8" x2="350.96999999999997" y2="539.0" stroke="#222" stroke-width="1.3"/>
<text x="350.96999999999997" y="548.0" font-size="7.0" text-anchor="middle" fill="#2b2b2b" stroke="#2b2b2b">3</text>
<text x="0" y="0" transform="translate(368.04,506.90) scale(0.88,1)" font-size="7.1" text-anchor="middle" fill="#4e9046" stroke="#4e9046">33</text>
<text x="368.03999999999996" y="514.3" font-size="6.3" text-anchor="middle" fill="#4e9046" stroke="#4e9046">(6)</text>
<text x="0" y="0" transform="translate(368.04,524.50) scale(0.88,1)" font-size="7.1" text-anchor="middle" fill="#b3304e" stroke="#b3304e">7</text>
<text x="368.03999999999996" y="531.9" font-size="6.3" text-anchor="middle" fill="#b3304e" stroke="#b3304e">(5)</text>
<line x1="368.03999999999996" y1="535.8" x2="368.03999999999996" y2="539.0" stroke="#222" stroke-width="1.3"/>
<text x="368.03999999999996" y="548.0" font-size="7.0" text-anchor="middle" fill="#2b2b2b" stroke="#2b2b2b">6</text>
<text x="0" y="0" transform="translate(385.11,506.90) scale(0.88,1)" font-size="7.1" text-anchor="middle" fill="#4e9046" stroke="#4e9046">31</text>
<text x="385.10999999999996" y="514.3" font-size="6.3" text-anchor="middle" fill="#4e9046" stroke="#4e9046">(8)</text>
<text x="0" y="0" transform="translate(385.11,524.50) scale(0.88,1)" font-size="7.1" text-anchor="middle" fill="#b3304e" stroke="#b3304e">6</text>
<text x="385.10999999999996" y="531.9" font-size="6.3" text-anchor="middle" fill="#b3304e" stroke="#b3304e">(6)</text>
<line x1="385.10999999999996" y1="535.8" x2="385.10999999999996" y2="539.0" stroke="#222" stroke-width="1.3"/>
<text x="385.10999999999996" y="548.0" font-size="7.0" text-anchor="middle" fill="#2b2b2b" stroke="#2b2b2b">9</text>
<text x="0" y="0" transform="translate(402.18,506.90) scale(0.88,1)" font-size="7.1" text-anchor="middle" fill="#4e9046" stroke="#4e9046">29</text>
<text x="402.17999999999995" y="514.3" font-size="6.3" text-anchor="middle" fill="#4e9046" stroke="#4e9046">(10)</text>
<text x="0" y="0" transform="translate(402.18,524.50) scale(0.88,1)" font-size="7.1" text-anchor="middle" fill="#b3304e" stroke="#b3304e">6</text>
<text x="402.17999999999995" y="531.9" font-size="6.3" text-anchor="middle" fill="#b3304e" stroke="#b3304e">(6)</text>
<line x1="402.17999999999995" y1="535.8" x2="402.17999999999995" y2="539.0" stroke="#222" stroke-width="1.3"/>
<text x="402.17999999999995" y="548.0" font-size="7.0" text-anchor="middle" fill="#2b2b2b" stroke="#2b2b2b">12</text>
<text x="0" y="0" transform="translate(419.25,506.90) scale(0.88,1)" font-size="7.1" text-anchor="middle" fill="#4e9046" stroke="#4e9046">27</text>
<text x="419.25" y="514.3" font-size="6.3" text-anchor="middle" fill="#4e9046" stroke="#4e9046">(10)</text>
<text x="0" y="0" transform="translate(419.25,524.50) scale(0.88,1)" font-size="7.1" text-anchor="middle" fill="#b3304e" stroke="#b3304e">5</text>
<text x="419.25" y="531.9" font-size="6.3" text-anchor="middle" fill="#b3304e" stroke="#b3304e">(7)</text>
<line x1="419.25" y1="535.8" x2="419.25" y2="539.0" stroke="#222" stroke-width="1.3"/>
<text x="419.25" y="548.0" font-size="7.0" text-anchor="middle" fill="#2b2b2b" stroke="#2b2b2b">15</text>
<text x="0" y="0" transform="translate(436.32,506.90) scale(0.88,1)" font-size="7.1" text-anchor="middle" fill="#4e9046" stroke="#4e9046">26</text>
<text x="436.32" y="514.3" font-size="6.3" text-anchor="middle" fill="#4e9046" stroke="#4e9046">(11)</text>
<text x="0" y="0" transform="translate(436.32,524.50) scale(0.88,1)" font-size="7.1" text-anchor="middle" fill="#b3304e" stroke="#b3304e">4</text>
<text x="436.32" y="531.9" font-size="6.3" text-anchor="middle" fill="#b3304e" stroke="#b3304e">(8)</text>
<line x1="436.32" y1="535.8" x2="436.32" y2="539.0" stroke="#222" stroke-width="1.3"/>
<text x="436.32" y="548.0" font-size="7.0" text-anchor="middle" fill="#2b2b2b" stroke="#2b2b2b">18</text>
<text x="0" y="0" transform="translate(453.39,506.90) scale(0.88,1)" font-size="7.1" text-anchor="middle" fill="#4e9046" stroke="#4e9046">19</text>
<text x="453.39" y="514.3" font-size="6.3" text-anchor="middle" fill="#4e9046" stroke="#4e9046">(12)</text>
<text x="0" y="0" transform="translate(453.39,524.50) scale(0.88,1)" font-size="7.1" text-anchor="middle" fill="#b3304e" stroke="#b3304e">3</text>
<text x="453.39" y="531.9" font-size="6.3" text-anchor="middle" fill="#b3304e" stroke="#b3304e">(8)</text>
<line x1="453.39" y1="535.8" x2="453.39" y2="539.0" stroke="#222" stroke-width="1.3"/>
<text x="453.39" y="548.0" font-size="7.0" text-anchor="middle" fill="#2b2b2b" stroke="#2b2b2b">21</text>
<text x="0" y="0" transform="translate(470.46,506.90) scale(0.88,1)" font-size="7.1" text-anchor="middle" fill="#4e9046" stroke="#4e9046">10</text>
<text x="470.46" y="514.3" font-size="6.3" text-anchor="middle" fill="#4e9046" stroke="#4e9046">(12)</text>
<text x="0" y="0" transform="translate(470.46,524.50) scale(0.88,1)" font-size="7.1" text-anchor="middle" fill="#b3304e" stroke="#b3304e">2</text>
<text x="470.46" y="531.9" font-size="6.3" text-anchor="middle" fill="#b3304e" stroke="#b3304e">(8)</text>
<line x1="470.46" y1="535.8" x2="470.46" y2="539.0" stroke="#222" stroke-width="1.3"/>
<text x="470.46" y="548.0" font-size="7.0" text-anchor="middle" fill="#2b2b2b" stroke="#2b2b2b">24</text>
<text x="0" y="0" transform="translate(487.53,506.90) scale(0.88,1)" font-size="7.1" text-anchor="middle" fill="#4e9046" stroke="#4e9046">5</text>
<text x="487.53" y="514.3" font-size="6.3" text-anchor="middle" fill="#4e9046" stroke="#4e9046">(12)</text>
<text x="0" y="0" transform="translate(487.53,524.50) scale(0.88,1)" font-size="7.1" text-anchor="middle" fill="#b3304e" stroke="#b3304e">2</text>
<text x="487.53" y="531.9" font-size="6.3" text-anchor="middle" fill="#b3304e" stroke="#b3304e">(8)</text>
<line x1="487.53" y1="535.8" x2="487.53" y2="539.0" stroke="#222" stroke-width="1.3"/>
<text x="487.53" y="548.0" font-size="7.0" text-anchor="middle" fill="#2b2b2b" stroke="#2b2b2b">27</text>
<text x="0" y="0" transform="translate(504.60,506.90) scale(0.88,1)" font-size="7.1" text-anchor="middle" fill="#4e9046" stroke="#4e9046">0</text>
<text x="504.6" y="514.3" font-size="6.3" text-anchor="middle" fill="#4e9046" stroke="#4e9046">(12)</text>
<text x="0" y="0" transform="translate(504.60,524.50) scale(0.88,1)" font-size="7.1" text-anchor="middle" fill="#b3304e" stroke="#b3304e">0</text>
<text x="504.6" y="531.9" font-size="6.3" text-anchor="middle" fill="#b3304e" stroke="#b3304e">(8)</text>
<line x1="504.6" y1="535.8" x2="504.6" y2="539.0" stroke="#222" stroke-width="1.3"/>
<text x="504.6" y="548.0" font-size="7.0" text-anchor="middle" fill="#2b2b2b" stroke="#2b2b2b">30</text>
<text x="419.5" y="560.0" font-size="9.0" text-anchor="middle" textLength="114.7" lengthAdjust="spacingAndGlyphs" fill="#2b2b2b" stroke="#2b2b2b">Months post tisagenlecleucel infusion</text>
<rect x="0.5" y="0.5" width="519" height="568" fill="none" stroke="#555" stroke-width="1"/>
</svg>
</body></html>
